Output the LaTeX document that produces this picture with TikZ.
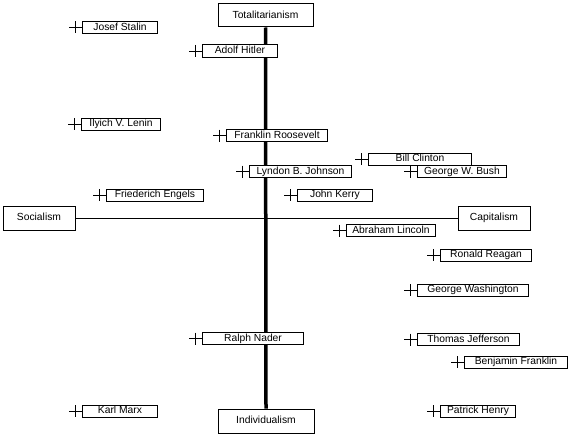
\documentclass[tikz,border=0pt]{standalone}
\usepackage{fontspec}
\setmainfont{Liberation Sans}
\newcommand\diagfont{\fontsize{10.3}{12}\selectfont}
\tikzset{
  bigbox/.style={draw, line width=1pt, fill=white, inner sep=0pt, font=\diagfont, text height=7.5pt, text depth=2pt},
  pbox/.style={draw, line width=1pt, fill=white, inner sep=0pt, minimum height=12pt, anchor=west, font=\diagfont, text height=7.5pt, text depth=2pt},
  axis/.style={line width=3.5pt},
  thinaxis/.style={line width=1pt},
  tick/.style={line width=1pt}
}
\newcommand\personbox[5]{%
  \node[pbox, minimum width=#4pt] (#1) at (#2,#3) {#5};
  \draw[tick] ([xshift=-13pt]#1.west) -- (#1.west);
  \draw[tick] ([xshift=-7pt,yshift=6pt]#1.west) -- ([xshift=-7pt,yshift=-6pt]#1.west);
}
\begin{document}
\begin{tikzpicture}[x=1pt,y=-1pt]
\useasboundingbox[fill=white] (0,0) rectangle (569,436);
\node[bigbox, minimum width=95pt, minimum height=23pt] (tot) at (265.5,15.5) {Totalitarianism};
\node[bigbox, minimum width=96pt, minimum height=24pt] (ind) at (266,421) {Individualism};
\node[bigbox, minimum width=72pt, minimum height=24pt] (soc) at (39,218) {Socialism};
\node[bigbox, minimum width=72pt, minimum height=24pt] (cap) at (494,218) {Capitalism};
\draw[thinaxis] (soc.east) -- (cap.west);
\draw[axis] (tot.south) -- (ind.north);
\personbox{stalin}{82}{27.5}{75}{Josef Stalin}
\personbox{hitler}{202}{51}{75}{Adolf Hitler}
\personbox{lenin}{81}{124}{79}{Ilyich V. Lenin}
\personbox{fdr}{226}{135.5}{101}{Franklin Roosevelt}
\personbox{clinton}{368}{159}{103}{Bill Clinton}
\personbox{lbj}{249}{171.5}{102}{Lyndon B. Johnson}
\personbox{bush}{417}{171.5}{89}{George W. Bush}
\personbox{engels}{106}{195}{97}{Friederich Engels}
\personbox{kerry}{297}{195}{75}{John Kerry}
\personbox{lincoln}{346}{230.5}{89}{Abraham Lincoln}
\personbox{reagan}{440}{255}{91}{Ronald Reagan}
\personbox{washington}{417}{290}{111}{George Washington}
\personbox{nader}{202}{338.5}{101}{Ralph Nader}
\personbox{jefferson}{417}{339.5}{102}{Thomas Jefferson}
\personbox{franklin}{464}{362}{103}{Benjamin Franklin}
\personbox{marx}{82}{411}{75}{Karl Marx}
\personbox{henry}{440}{411}{75}{Patrick Henry}
\end{tikzpicture}
\end{document}
